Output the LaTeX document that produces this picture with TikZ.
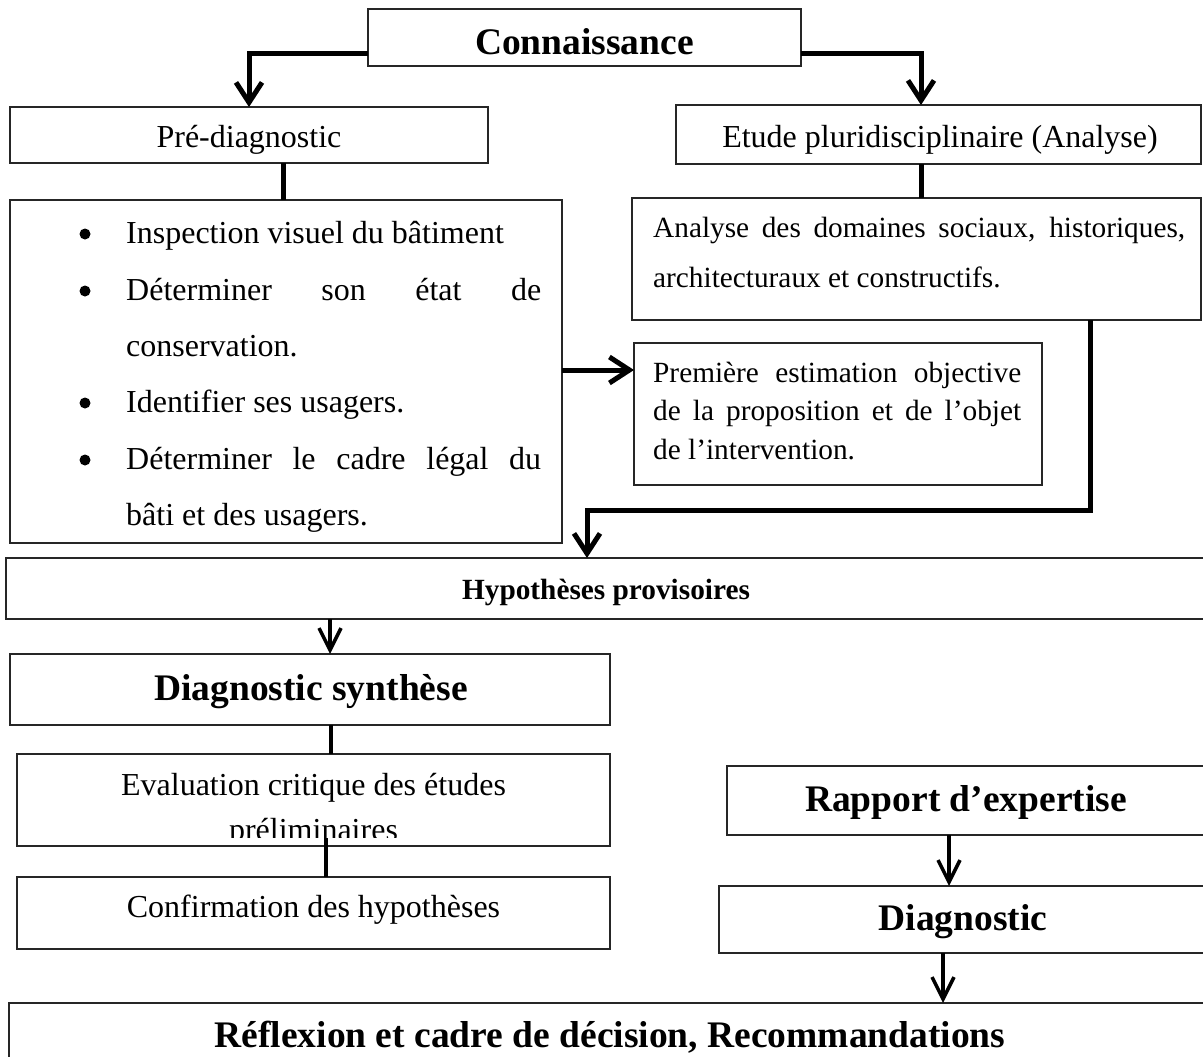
\documentclass[tikz,border=0pt]{standalone}
\usepackage{fontspec}
\setmainfont{Liberation Serif}
\usetikzlibrary{arrows.meta,calc}
\begin{document}
\begin{tikzpicture}[x=1pt,y=-1pt,
  box/.style={draw=black!85, line width=2pt, inner sep=0pt, outer sep=0pt},
  conn/.style={line width=5pt, black},
  connarrow/.style={conn, -{Straight Barb[length=20pt,width=26pt]}},
  thinarrow/.style={line width=3.5pt, black, -{Straight Barb[length=22pt,width=22pt]}},
  thinline/.style={line width=4pt, black},
  dot/.style={circle, fill=black, inner sep=0pt, minimum size=11pt},
  tr/.style={font=\fontsize{32}{38}\selectfont, inner sep=0pt, anchor=base},
  trl/.style={tr, anchor=base west},
  ts/.style={font=\fontsize{29.3}{35}\selectfont, inner sep=0pt, anchor=base west},
  tb/.style={font=\fontsize{37.5}{44}\selectfont\bfseries, inner sep=0pt, anchor=base},
  tbs/.style={font=\fontsize{29.3}{35}\selectfont\bfseries, inner sep=0pt, anchor=base},
]
\clip (0,0) rectangle (1203,1057);
\fill[white] (0,0) rectangle (1203,1057);

% boxes
\node[box, minimum width=433pt, minimum height=57pt] (conn) at (584.5,37.5) {};
\node[box, minimum width=478pt, minimum height=56pt] (pre) at (249,135) {};
\node[box, minimum width=525pt, minimum height=59pt] (etude) at (938.5,134.5) {};
\node[box, minimum width=552pt, minimum height=343pt] (bul) at (286,371.5) {};
\node[box, minimum width=569pt, minimum height=122pt] (ana) at (916.5,259) {};
\node[box, minimum width=408pt, minimum height=142pt] (prem) at (838,414) {};
\node[box, minimum width=1200pt, minimum height=61pt] (hyp) at (606,588.5) {};
\node[box, minimum width=600pt, minimum height=71pt] (ds) at (310,689.5) {};
\node[box, minimum width=593pt, minimum height=92pt] (eval) at (313.5,800) {};
\node[box, minimum width=593pt, minimum height=72pt] (conf) at (313.5,913) {};
\node[box, minimum width=478pt, minimum height=69pt] (rap) at (966,800.5) {};
\node[box, minimum width=488pt, minimum height=67pt] (diag) at (963,919.5) {};
\node[box, minimum width=1202pt, minimum height=77pt] (refl) at (610,1041.5) {};

% texts
\node[tb] (tconn) at (584.5,55) {Connaissance};
\node[tr] (tpre) at (249,147) {Pré-diagnostic};
\node[tr] (tetude) at (940,147) {Etude pluridisciplinaire (Analyse)};

\node[dot] (b1) at (85,234) {};
\node[trl] (l1) at (126,243) {Inspection visuel du bâtiment};
\node[dot] (b2) at (85,291) {};
\node[trl] (l2) at (126,300) {\makebox[415pt][s]{Déterminer son état de}};
\node[trl] (l3) at (126,356) {conservation.};
\node[dot] (b4) at (85,403) {};
\node[trl] (l4) at (126,412) {Identifier ses usagers.};
\node[dot] (b5) at (85,460) {};
\node[trl] (l5) at (126,469) {\makebox[415pt][s]{Déterminer le cadre légal du}};
\node[trl] (l6) at (126,525) {bâti et des usagers.};

\node[ts] (a1) at (653,237) {\makebox[532pt][s]{Analyse des domaines sociaux, historiques,}};
\node[ts] (a2) at (653,287) {architecturaux et constructifs.};

\node[ts] (p1) at (653,382) {\makebox[368pt][s]{Première estimation objective}};
\node[ts] (p2) at (653,420) {\makebox[368pt][s]{de la proposition et de l’objet}};
\node[ts] (p3) at (653,459) {de l’intervention.};

\node[tbs] (thyp) at (606,599) {Hypothèses provisoires};
\node[tb] (tds) at (311,700) {Diagnostic synthèse};
\begin{scope}
  \clip (18,755) rectangle (609,837);
  \node[tr] (te1) at (313.5,795) {Evaluation critique des études};
  \node[tr] (te2) at (313.5,840) {préliminaires};
\end{scope}
\node[tr] (tconf) at (313.5,917) {Confirmation des hypothèses};
\node[tb] (trap) at (966,811) {Rapport d’expertise};
\node[tb] (tdiag) at (963,930) {Diagnostic};
\node[tb] (trefl) at (610,1047) {Réflexion et cadre de décision, Recommandations};

% connectors
\draw[connarrow] ($(conn.south west)+(0,-12)$) -| (pre.north);
\draw[connarrow] ($(conn.south east)+(0,-12)$) -| ($(etude.north)+(-17.5,0)$);
\draw[conn] ($(pre.south)+(34,0)$) coordinate (c1) -- (c1 |- bul.north);
\draw[conn] ($(etude.south)+(-17.5,0)$) coordinate (c2) -- (c2 |- ana.north);
\draw[connarrow] ($(bul.east)+(0,-1.5)$) coordinate (c3) -- (c3 -| prem.west);
\draw[connarrow] ($(ana.south)+(173.5,0)$) -- ++(0,190) -| ($(hyp.north)+(-19,0)$);
\draw[thinarrow] ($(hyp.south)+(-276,0)$) coordinate (c4) -- (c4 |- ds.north);
\draw[thinline] ($(ds.south)+(21,0)$) coordinate (c5) -- (c5 |- eval.north);
\draw[thinline] ($(eval.south)+(12.5,-8)$) coordinate (c6) -- (c6 |- conf.north);
\draw[thinarrow] ($(rap.south)+(-17,0)$) coordinate (c7) -- (c7 |- diag.north);
\draw[thinarrow] ($(diag.south)+(-20,0)$) coordinate (c8) -- (c8 |- refl.north);
\end{tikzpicture}
\end{document}
